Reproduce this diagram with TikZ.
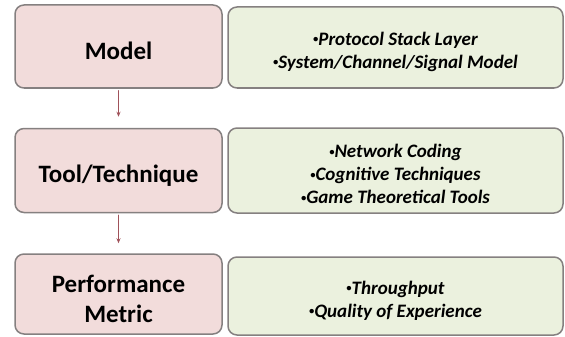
\documentclass[tikz,border=0pt]{standalone}
\usepackage{fontspec}
\setmainfont{Carlito}
\usetikzlibrary{arrows.meta}
\definecolor{pinkbox}{HTML}{F2DCDB}
\definecolor{greenbox}{HTML}{EBF1DE}
\definecolor{boxline}{HTML}{858080}
\definecolor{arrowred}{HTML}{A0525A}
\newcommand{\itm}{\raisebox{0.28ex}{\scalebox{0.55}{\textbullet}}}
\newcommand{\topgap}[1]{\rule{0pt}{#1}}
\begin{document}
\begin{tikzpicture}[x=1pt, y=-1pt, line cap=round, line join=round,
  stage/.style={draw=boxline, line width=1.5pt, fill=pinkbox, rounded corners=9pt,
    minimum width=207pt, inner sep=0pt, align=center,
    font=\fontsize{25}{30}\selectfont\bfseries},
  detail/.style={draw=boxline, line width=1.5pt, fill=greenbox, rounded corners=9pt,
    minimum width=335pt, inner sep=0pt, align=center,
    font=\fontsize{19}{23}\selectfont\bfseries\itshape},
  link/.style={-{Stealth[length=5pt, width=4pt]}, arrowred, line width=1.2pt}]
  \useasboundingbox (0,0) rectangle (565,337);

  % left column
  \node[stage, minimum height=83pt] (model) at (118.5,46.5) {\topgap{27pt}Model};
  \node[stage, minimum height=84pt] (tool) at (118.5,170.5) {\topgap{27pt}Tool/Technique};
  \node[stage, minimum height=80pt] (metric) at (118.5,294)
    {\topgap{27pt}Performance\\Metric};

  % right column
  \node[detail, minimum height=81pt] (modelinfo) at (395.5,47.5)
    {\topgap{22pt}\itm Protocol Stack Layer\\\itm System/Channel/Signal Model};
  \node[detail, minimum height=85pt] (toolinfo) at (395.5,170.5)
    {\topgap{21pt}\itm Network Coding\\\itm Cognitive Techniques\\\itm Game Theoretical Tools};
  \node[detail, minimum height=78pt] (metricinfo) at (395.5,296)
    {\topgap{22pt}\itm Throughput\\\itm Quality of Experience};

  \draw[link, shorten <=2pt, shorten >=11pt] (model) -- (tool);
  \draw[link, shorten <=2pt, shorten >=10pt] (tool) -- (metric);
\end{tikzpicture}
\end{document}
